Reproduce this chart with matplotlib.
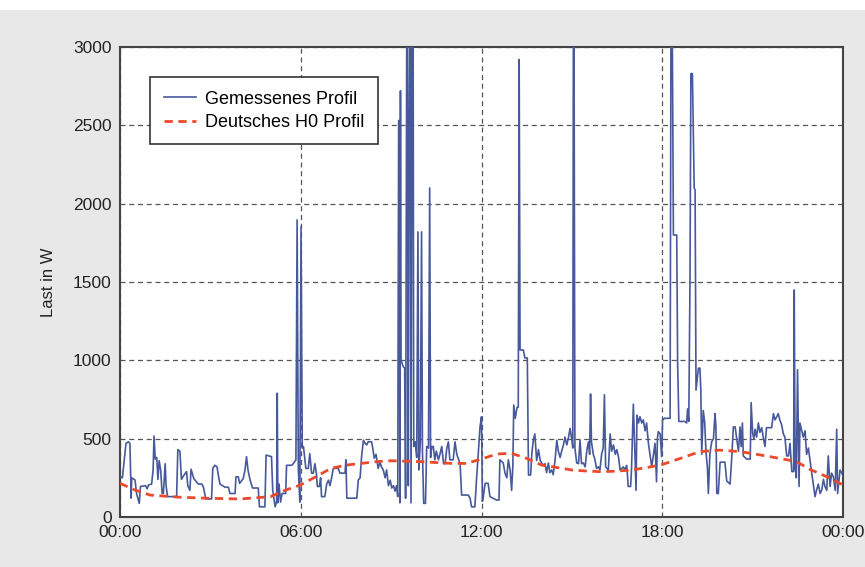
import matplotlib
matplotlib.use("Agg")
import matplotlib.pyplot as plt
from matplotlib.patches import Rectangle

plt.rcParams['font.family'] = ['Liberation Sans', 'DejaVu Sans']

# measured load profile (hour of day, watts)
mess_h = [0.00, 0.08, 0.20, 0.28, 0.33, 0.36, 0.37, 0.39, 0.50, 0.55, 0.64, 0.68, 0.85, 0.90, 0.95,
          1.05, 1.10, 1.13, 1.17, 1.22, 1.26, 1.30, 1.35, 1.40, 1.44, 1.50, 1.53, 1.58, 1.88, 1.92,
          1.99, 2.04, 2.10, 2.21, 2.25, 2.32, 2.36, 2.45, 2.60, 2.72, 2.77, 2.85, 3.04, 3.08, 3.15,
          3.22, 3.28, 3.32, 3.49, 3.60, 3.65, 3.82, 3.85, 3.93, 3.97, 4.09, 4.15, 4.20, 4.25, 4.32,
          4.40, 4.59, 4.63, 4.81, 4.85, 5.03, 5.07, 5.15, 5.20, 5.22, 5.24, 5.28, 5.33, 5.38, 5.50,
          5.53, 5.70, 5.75, 5.84, 5.88, 5.92, 5.97, 6.01, 6.05, 6.09, 6.17, 6.25, 6.30, 6.36, 6.42,
          6.47, 6.52, 6.55, 6.62, 6.66, 6.69, 6.80, 6.86, 6.92, 6.97, 7.03, 7.08, 7.25, 7.30, 7.47,
          7.50, 7.53, 7.86, 7.91, 7.97, 8.02, 8.08, 8.14, 8.19, 8.24, 8.35, 8.39, 8.44, 8.50, 8.57,
          8.63, 8.68, 8.74, 8.80, 8.85, 8.91, 8.97, 9.02, 9.08, 9.13, 9.18, 9.22, 9.25, 9.27, 9.29,
          9.31, 9.33, 9.40, 9.45, 9.48, 9.52, 9.54, 9.57, 9.60, 9.62, 9.64, 9.66, 9.70, 9.73, 9.75,
          9.80, 9.85, 9.89, 9.92, 9.97, 10.01, 10.04, 10.08, 10.14, 10.18, 10.24, 10.28, 10.31, 10.35, 10.40,
          10.45, 10.50, 10.57, 10.62, 10.68, 10.74, 10.79, 10.85, 10.90, 10.95, 11.06, 11.12, 11.18, 11.29, 11.34,
          11.56, 11.62, 11.67, 11.78, 11.84, 11.89, 11.95, 12.00, 12.03, 12.06, 12.12, 12.22, 12.28, 12.50, 12.58,
          12.61, 12.72, 12.78, 12.84, 12.89, 12.95, 13.00, 13.04, 13.07, 13.12, 13.18, 13.22, 13.25, 13.28, 13.39,
          13.44, 13.52, 13.56, 13.63, 13.67, 13.72, 13.77, 13.83, 13.89, 13.95, 14.00, 14.05, 14.11, 14.16, 14.22,
          14.27, 14.33, 14.38, 14.44, 14.50, 14.55, 14.61, 14.66, 14.72, 14.77, 14.83, 14.88, 14.94, 15.00, 15.03,
          15.05, 15.07, 15.10, 15.16, 15.22, 15.27, 15.32, 15.38, 15.44, 15.50, 15.55, 15.59, 15.62, 15.65, 15.71,
          15.76, 15.82, 15.88, 15.93, 15.99, 16.04, 16.08, 16.12, 16.21, 16.27, 16.32, 16.38, 16.44, 16.49, 16.55,
          16.60, 16.71, 16.76, 16.82, 16.87, 16.95, 16.98, 17.04, 17.09, 17.13, 17.16, 17.21, 17.26, 17.32, 17.37,
          17.43, 17.48, 17.54, 17.60, 17.65, 17.70, 17.76, 17.81, 17.84, 17.87, 17.93, 17.98, 18.01, 18.07, 18.26,
          18.29, 18.33, 18.37, 18.48, 18.51, 18.55, 18.75, 18.81, 18.84, 18.88, 18.92, 18.95, 19.00, 19.06, 19.09,
          19.12, 19.20, 19.25, 19.28, 19.31, 19.36, 19.41, 19.45, 19.50, 19.53, 19.58, 19.64, 19.70, 19.75, 19.78,
          19.81, 19.86, 19.92, 20.08, 20.14, 20.25, 20.30, 20.36, 20.42, 20.47, 20.53, 20.58, 20.62, 20.66, 20.69,
          20.80, 20.92, 20.95, 21.00, 21.04, 21.08, 21.13, 21.19, 21.24, 21.30, 21.36, 21.41, 21.46, 21.63, 21.69,
          21.74, 21.80, 21.85, 21.90, 21.96, 22.02, 22.07, 22.13, 22.19, 22.24, 22.30, 22.36, 22.38, 22.41, 22.45,
          22.49, 22.54, 22.57, 22.63, 22.68, 22.74, 22.79, 22.85, 22.90, 22.96, 23.01, 23.07, 23.12, 23.18, 23.24,
          23.29, 23.35, 23.40, 23.46, 23.51, 23.57, 23.62, 23.68, 23.74, 23.79, 23.82, 23.90, 23.96, 24.00]
mess_w = [260, 250, 470, 480, 470, 230, 120, 250, 236, 150, 87, 195, 200, 180, 205,
          210, 300, 517, 370, 380, 240, 360, 300, 150, 150, 340, 200, 130, 130, 430,
          420, 240, 260, 290, 200, 170, 305, 245, 210, 210, 190, 115, 115, 310, 330,
          320, 250, 210, 190, 190, 150, 150, 256, 256, 215, 245, 300, 385, 300, 235,
          185, 185, 65, 65, 395, 385, 170, 65, 100, 790, 90, 210, 95, 150, 150,
          330, 330, 340, 365, 1896, 310, 95, 1853, 440, 450, 310, 310, 405, 280, 280,
          340, 280, 195, 195, 250, 130, 130, 210, 235, 200, 255, 310, 310, 280, 280,
          365, 120, 120, 236, 250, 385, 490, 470, 460, 480, 480, 440, 375, 400, 310,
          350, 320, 300, 250, 300, 200, 235, 185, 200, 165, 200, 130, 2530, 2530, 90,
          2720, 1000, 960, 950, 120, 3200, 3200, 200, 2550, 3200, 3200, 90, 3200, 3200, 450,
          480, 380, 1820, 300, 480, 1820, 420, 87, 87, 450, 440, 2100, 380, 450, 450,
          365, 420, 365, 400, 450, 340, 340, 440, 480, 365, 365, 480, 400, 340, 140,
          140, 120, 65, 65, 256, 395, 575, 640, 100, 130, 215, 215, 130, 108, 108,
          365, 345, 280, 250, 365, 300, 170, 320, 715, 630, 700, 700, 2920, 1066, 1066,
          1015, 1015, 268, 268, 405, 490, 530, 360, 430, 360, 345, 330, 340, 283, 345,
          283, 300, 270, 360, 490, 420, 380, 420, 460, 510, 460, 500, 565, 490, 440,
          3200, 3200, 440, 345, 340, 490, 340, 345, 320, 430, 480, 400, 785, 480, 400,
          370, 310, 320, 300, 405, 440, 780, 320, 300, 530, 420, 460, 400, 430, 380,
          300, 320, 300, 330, 195, 195, 310, 720, 405, 170, 650, 600, 640, 600, 620,
          550, 600, 470, 390, 320, 390, 470, 225, 505, 545, 530, 385, 620, 630, 630,
          3200, 3200, 1800, 1800, 983, 610, 610, 600, 690, 610, 1500, 2830, 2830, 2100, 2087,
          810, 950, 950, 810, 400, 680, 600, 420, 310, 150, 400, 480, 500, 660, 580,
          150, 150, 350, 350, 230, 210, 360, 575, 575, 500, 420, 575, 450, 600, 390,
          370, 370, 730, 535, 500, 560, 510, 600, 540, 570, 500, 450, 570, 570, 660,
          620, 640, 660, 620, 590, 530, 510, 390, 390, 470, 290, 290, 1449, 320, 250,
          940, 195, 600, 550, 510, 550, 400, 440, 370, 280, 215, 130, 170, 210, 150,
          170, 240, 195, 170, 390, 195, 280, 255, 170, 560, 150, 300, 280, 260]

# German standard load profile H0
h0_h = [0, 0.5, 1, 2, 3, 4, 5, 5.5, 6, 6.5, 7, 7.5, 8, 8.5, 9, 10, 11, 11.5, 12, 12.5,
        13, 13.5, 14, 14.5, 15, 15.5, 16, 16.5, 17, 17.5, 18, 18.6, 19.25, 19.9, 20.6, 21.25,
        21.9, 22.46, 22.9, 23.46, 24]
h0_w = [215, 172, 140, 126, 119, 115, 130, 172, 205, 257, 310, 331, 342, 353, 359, 353, 342, 342, 370, 402,
        406, 374, 331, 316, 300, 293, 289, 293, 300, 316, 335, 374, 417, 427, 417, 396,
        374, 353, 304, 257, 204]

x_ticks = [0, 6, 12, 18, 24]
x_labels = ['00:00', '06:00', '12:00', '18:00', '00:00']
y_ticks = [0, 500, 1000, 1500, 2000, 2500, 3000]

fig = plt.figure(figsize=(8.65, 5.67), dpi=100, facecolor='#e8e8e8')
fig.patches.append(Rectangle((0, 0.982), 1, 0.02, transform=fig.transFigure,
                             facecolor='white', edgecolor='none', zorder=0))
ax = fig.add_axes([0.1387, 0.0882, 0.8359, 0.8289])
ax.set_facecolor('white')

ax.plot(mess_h, mess_w, color='#47599a', lw=1.2, label='Gemessenes Profil', zorder=3)
ax.plot(h0_h, h0_w, color='#ec4a2c', lw=2.0, ls=(0, (3, 2)), label='Deutsches H0 Profil', zorder=4)

ax.set_xlim(0, 24)
ax.set_ylim(0, 3000)
ax.set_xticks(x_ticks)
ax.set_xticklabels(x_labels)
ax.set_yticks(y_ticks)
ax.tick_params(length=0, labelsize=12.5, colors='#222222', pad=6)
ax.set_ylabel('Last in W', fontsize=12, color='#222222', labelpad=12)

ax.grid(True, color='#555555', lw=0.9, ls=(0, (4, 3)))
ax.set_axisbelow(True)
for s in ax.spines.values():
    s.set_color('#444444')
    s.set_linewidth(1.5)

leg = ax.legend(loc='upper left', bbox_to_anchor=(0.0415, 0.936), borderaxespad=0,
                fontsize=13, fancybox=False, framealpha=1, edgecolor='#333333',
                borderpad=0.75, handlelength=1.8, handletextpad=0.5, labelspacing=0.35)
leg.get_frame().set_linewidth(1.2)

fig.savefig('out.png', dpi=100, facecolor=fig.get_facecolor())
